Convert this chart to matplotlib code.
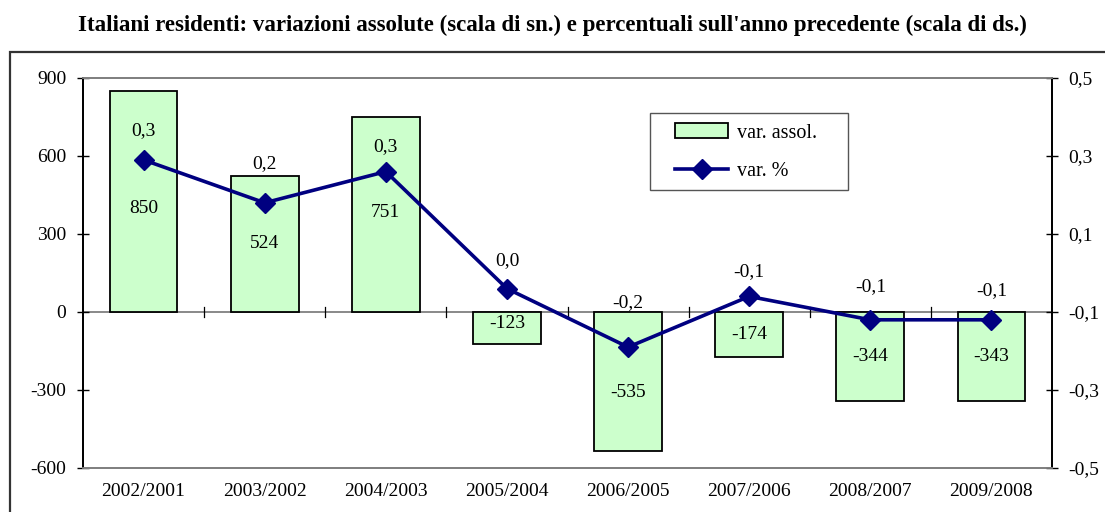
import matplotlib.pyplot as plt
import numpy as np
from matplotlib.patches import Rectangle
from matplotlib.ticker import FuncFormatter

plt.rcParams['font.family'] = ['Liberation Serif', 'DejaVu Serif']
plt.rcParams['axes.unicode_minus'] = False

# data
periods = ['2002/2001', '2003/2002', '2004/2003', '2005/2004',
           '2006/2005', '2007/2006', '2008/2007', '2009/2008']
var_assol = [850, 524, 751, -123, -535, -174, -344, -343]
var_pct = [0.29, 0.18, 0.26, -0.04, -0.19, -0.06, -0.12, -0.12]

# label nudges (points), layout only
pct_offsets = [21, 28, 18, 20, 32, 18, 24, 21]
bar_offsets = [-5, 0, 1, 3, -8, 0, 0, 0]


def it_fmt(v):
    return f'{round(v, 1) + 0.0:.1f}'.replace('.', ',')


fig = plt.figure(figsize=(11.05, 5.12), dpi=100)
ax = fig.add_axes([83 / 1105, 1 - 468 / 512, 969 / 1105, 390 / 512])
ax2 = ax.twinx()

x = np.arange(len(periods))
bars = ax.bar(x, var_assol, width=0.56, color='#ccffcc', edgecolor='black',
              linewidth=1.3, label='var. assol.', zorder=2)
ax.axhline(0, color='#808080', lw=1.3, zorder=1)
for b in np.arange(0.5, len(periods) - 1, 1):
    ax.plot([b, b], [-20, 20], color='black', lw=0.9, zorder=1)

for xi, v, off in zip(x, var_assol, bar_offsets):
    ax.annotate(str(v), (xi, v / 2), xytext=(0, off), textcoords='offset points',
                ha='center', va='center', fontsize=14, zorder=3)

ax.set_xlim(-0.5, len(periods) - 0.5)
ax.set_ylim(-600, 900)
ax.set_yticks(range(-600, 901, 300))
ax.set_xticks(x)
ax.set_xticklabels(periods)
ax.tick_params(axis='x', length=0, pad=11, labelsize=14)
ax.tick_params(axis='y', direction='inout', length=8, width=1, labelsize=14, pad=8)

line, = ax2.plot(x, var_pct, color='#000080', lw=2.6, marker='D', markersize=10,
                 label='var. %', zorder=4)
for xi, v, off in zip(x, var_pct, pct_offsets):
    ax2.annotate(it_fmt(v), (xi, v), xytext=(0, off),
                 textcoords='offset points', ha='center', va='center', fontsize=14)
ax2.set_ylim(-0.5, 0.5)
ax2.set_yticks([-0.5, -0.3, -0.1, 0.1, 0.3, 0.5])
ax2.yaxis.set_major_formatter(FuncFormatter(lambda v, p: it_fmt(v)))
ax2.tick_params(axis='y', direction='inout', length=8, width=1, labelsize=14, pad=8)

for a in (ax, ax2):
    a.spines['top'].set_color('#808080')
    a.spines['bottom'].set_color('#808080')
    for s in a.spines.values():
        s.set_linewidth(1.3)

# legend box drawn separately so the padding can match
ax2.add_patch(Rectangle((0.585, 0.713), 0.204, 0.197, transform=ax2.transAxes,
                        fill=False, edgecolor='#555555', lw=1.0, zorder=5))
ax2.legend([bars, line], ['var. assol.', 'var. %'], loc='center left',
           bbox_to_anchor=(0.611, 0.81), fontsize=14.5, frameon=False,
           handlelength=2.65, handleheight=0.8, borderpad=0, labelspacing=0.95,
           handletextpad=0.45, borderaxespad=0)

fig.text(0.5, 1 - 25 / 512, "Italiani residenti: variazioni assolute (scala di sn.) e percentuali sull'anno precedente (scala di ds.)",
         ha='center', va='center', fontsize=16.5, fontweight='bold')

fig.patches.append(Rectangle((10 / 1105, -0.1), 1.2, (512 - 52) / 512 + 0.1,
                             transform=fig.transFigure, fill=False,
                             edgecolor='#333333', lw=1.6))

fig.savefig('out.png', dpi=100)
